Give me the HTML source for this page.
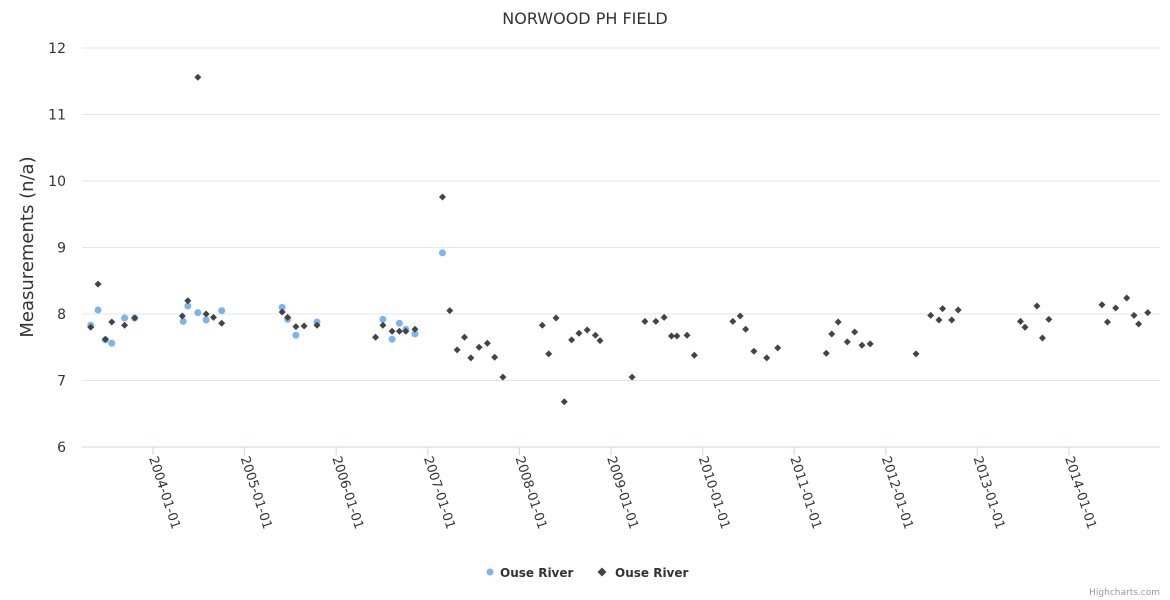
<!DOCTYPE html>
<html><head><meta charset="utf-8"><style>
html,body{margin:0;padding:0;background:#fff;}
svg{display:block;font-family:"DejaVu Sans","Liberation Sans",sans-serif;}
</style></head><body>
<svg id="chart" width="1170" height="600" xmlns="http://www.w3.org/2000/svg">
<text x="585" y="24" text-anchor="middle" font-size="16" fill="#333">NORWOOD PH FIELD</text>
<text transform="translate(33,247) rotate(-90)" text-anchor="middle" font-size="18" fill="#333">Measurements (n/a)</text>
<g id="grid"></g><g id="xaxis"></g><g id="blue"></g><g id="black"></g>
<g>
<g><circle cx="490" cy="572" r="3.5" fill="#7cb5ec"/><text x="500" y="577" font-size="12" font-weight="bold" fill="#333">Ouse River</text></g>
<g><path d="M602 567.5L606.5 572L602 576.5L597.5 572Z" fill="#434348"/><text x="615" y="577" font-size="12" font-weight="bold" fill="#333">Ouse River</text></g>
</g>
<text x="1160" y="595" text-anchor="end" font-size="9" fill="#999">Highcharts.com</text>
</svg>
<script>
const yTicks=[6,7,8,9,10,11,12];
const xTickYears=[2004,2005,2006,2007,2008,2009,2010,2011,2012,2013,2014];
const blueX=[2003.32,2003.40,2003.48,2003.55,2003.69,2003.80,2004.33,2004.38,2004.49,2004.58,2004.75,2005.41,2005.47,2005.56,2005.79,2006.51,2006.61,2006.69,2006.76,2006.86,2007.16];
const blueY=[7.83,8.06,7.61,7.56,7.94,7.94,7.89,8.12,8.02,7.91,8.05,8.10,7.92,7.68,7.88,7.92,7.62,7.86,7.77,7.70,8.92];
const blackX=[2003.32,2003.40,2003.48,2003.55,2003.69,2003.80,2004.32,2004.38,2004.49,2004.58,2004.66,2004.75,2005.41,2005.47,2005.56,2005.65,2005.79,2006.43,2006.51,2006.61,2006.69,2006.76,2006.86,2007.16,2007.24,2007.32,2007.40,2007.47,2007.56,2007.65,2007.73,2007.82,2008.25,2008.32,2008.40,2008.49,2008.57,2008.65,2008.74,2008.83,2008.88,2009.23,2009.37,2009.49,2009.58,2009.66,2009.72,2009.83,2009.91,2010.33,2010.41,2010.47,2010.56,2010.70,2010.82,2011.35,2011.41,2011.48,2011.58,2011.66,2011.74,2011.83,2012.33,2012.49,2012.58,2012.62,2012.72,2012.79,2013.47,2013.52,2013.65,2013.71,2013.78,2014.36,2014.42,2014.51,2014.63,2014.71,2014.76,2014.86];
const blackY=[7.80,8.45,7.62,7.88,7.83,7.94,7.97,8.20,11.56,8.00,7.95,7.86,8.03,7.95,7.81,7.82,7.83,7.65,7.83,7.74,7.74,7.74,7.77,9.76,8.05,7.46,7.65,7.34,7.50,7.56,7.35,7.05,7.83,7.40,7.94,6.68,7.61,7.71,7.76,7.68,7.60,7.05,7.89,7.89,7.95,7.67,7.67,7.68,7.38,7.89,7.97,7.77,7.44,7.34,7.49,7.41,7.70,7.88,7.58,7.73,7.53,7.55,7.40,7.98,7.91,8.08,7.91,8.06,7.89,7.80,8.12,7.64,7.92,8.14,7.88,8.09,8.24,7.98,7.85,8.02];
const NS='http://www.w3.org/2000/svg';
const X0=82,X1=1160,Y0=447,Y1=48;
const xS=v=>153+(v-2004)*91.6;
const yS=v=>Y0-(v-6)*(Y0-Y1)/6;
function mk(t,a,p){const e=document.createElementNS(NS,t);for(const k in a)e.setAttribute(k,a[k]);p.appendChild(e);return e;}
const grid=document.getElementById('grid');
yTicks.forEach(t=>{
 const l=mk('line',{x1:X0,x2:X1,y1:yS(t),y2:yS(t),stroke:t===6?'#ccd6eb':'#e6e6e6','stroke-width':1},grid);
 
 
 const tx=mk('text',{x:66,y:yS(t)+5,'text-anchor':'end','font-size':14,fill:'#333'},grid);
 tx.textContent=t;
 
 
});
const xa=document.getElementById('xaxis');
xTickYears.forEach(yr=>{
 const x=xS(yr);
 const tk=mk('line',{x1:x,x2:x,y1:Y0,y2:Y0+8,stroke:'#ccd6eb'},xa);
 
 
 const tx=mk('text',{transform:'translate('+(x-4)+','+(Y0+11)+') rotate(72)','font-size':13,fill:'#333'},xa);
 tx.textContent=yr+'-01-01';
 
 
});
const gb=document.getElementById('blue');
blueX.forEach((v,i)=>{
 const c=mk('circle',{cx:xS(v),cy:yS(blueY[i]),r:3.5,fill:'#7cb5ec'},gb);
 
 
});
const gk=document.getElementById('black');
blackX.forEach((v,i)=>{
 const x=xS(v),y=yS(blackY[i]);
 const p=mk('path',{d:`M${x} ${y-3.5}L${x+3.5} ${y}L${x} ${y+3.5}L${x-3.5} ${y}Z`,fill:'#434348'},gk);
 
 
});
</script>
</body></html>
